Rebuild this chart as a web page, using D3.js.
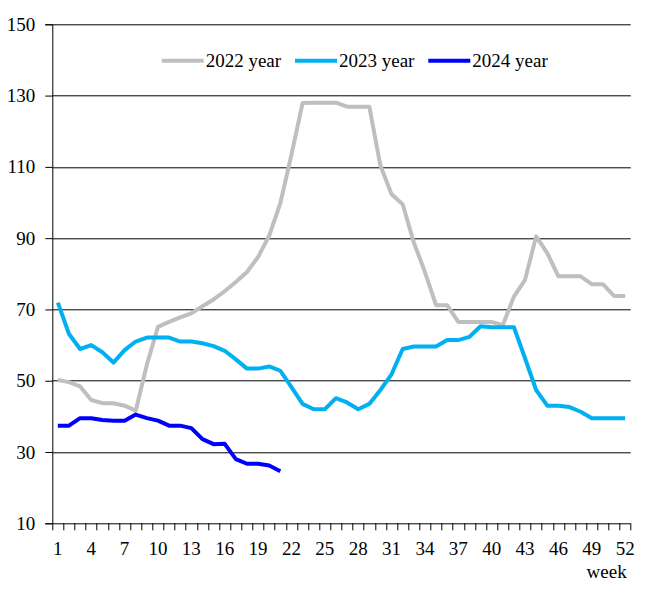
<!DOCTYPE html>
<html>
<head>
<meta charset="utf-8">
<script src="https://cdn.jsdelivr.net/npm/d3@7"></script>
<style>
  html, body { margin: 0; padding: 0; background: #fff; }
</style>
</head>
<body>
<div id="chart"></div>
<script>
const weeks = d3.range(1, 53);
const xTickWeeks = [1, 4, 7, 10, 13, 16, 19, 22, 25, 28, 31, 34, 37, 40, 43, 46, 49, 52];
const yTicks = [10, 30, 50, 70, 90, 110, 130, 150];

const y2022 = [50.2, 49.6, 48.4, 44.6, 43.7, 43.7, 43.0, 41.6, 54.5, 65.1,
    66.5, 67.8, 68.9, 70.9, 72.8, 75.1, 77.7, 80.5, 84.7, 90.7,
    99.8, 113.4, 127.9, 128.0, 128.0, 128.0, 126.9, 126.9, 126.9, 110.3,
    102.3, 99.5, 88.8, 80.5, 71.2, 71.2, 66.5, 66.5, 66.5, 66.5,
    65.6, 73.6, 78.3, 90.5, 85.8, 79.3, 79.3, 79.3, 77.1, 77.1,
    73.8, 73.8];
const y2023 = [71.9, 63.1, 58.9, 60.0, 58.0, 55.1, 58.6, 61.0, 62.1, 62.1,
    62.1, 61.0, 61.0, 60.5, 59.7, 58.4, 56.0, 53.4, 53.4, 54.0,
    52.8, 48.2, 43.5, 42.0, 42.0, 45.1, 43.9, 42.0, 43.5, 47.4,
    51.8, 58.9, 59.6, 59.6, 59.6, 61.4, 61.4, 62.3, 65.3, 65.0,
    65.0, 65.0, 56.3, 47.4, 43.0, 43.0, 42.6, 41.3, 39.5, 39.5,
    39.5, 39.5];
const y2024 = [37.4, 37.4, 39.5, 39.5, 39.0, 38.8, 38.8, 40.5, 39.5, 38.8,
    37.4, 37.4, 36.7, 33.6, 32.2, 32.3, 28.0, 26.7, 26.7, 26.2,
    24.6];

const seriesNames = ["2022 year", "2023 year", "2024 year"];
const seriesColors = ["#BFBFBF", "#00B0F0", "#0000FF"];
const seriesValues = [y2022, y2023, y2024];

const FONT = "'Liberation Serif', 'Times New Roman', Times, serif";
const FS = "19px";
const W = 647, H = 599;
const margin = { top: 24.3, right: 16.3, bottom: 75.7, left: 52.3 };
const width = W - margin.left - margin.right;
const height = H - margin.top - margin.bottom;

const svg = d3.select("#chart").append("svg")
    .attr("width", W)
    .attr("height", H);

const g = svg.append("g")
    .attr("transform", `translate(${margin.left},${margin.top})`);

const x = d3.scaleBand()
    .domain(weeks)
    .range([0, width])
    .padding(0);

const y = d3.scaleLinear()
    .domain([10, 150])
    .range([height, 0]);

// gridlines
g.selectAll("line.grid")
    .data(yTicks.filter(t => t > 10))
    .join("line")
    .attr("class", "grid")
    .attr("x1", 0)
    .attr("x2", width)
    .attr("y1", d => Math.round(y(d)) + 0.5)
    .attr("y2", d => Math.round(y(d)) + 0.5)
    .attr("stroke", "#000")
    .attr("stroke-width", 1);

// y axis
const yAxis = g.append("g")
    .call(d3.axisLeft(y).tickValues(yTicks).tickSize(7).tickPadding(10));
yAxis.select(".domain").attr("stroke", "#000");
yAxis.selectAll("text")
    .style("font-family", FONT)
    .style("font-size", FS)
    .attr("fill", "#000");

// x axis, ticks on category boundaries
const xAxisG = g.append("g")
    .attr("transform", `translate(0,${height})`);
xAxisG.append("line")
    .attr("x1", 0).attr("x2", width)
    .attr("y1", 0.5).attr("y2", 0.5)
    .attr("stroke", "#000");
xAxisG.selectAll("line.tick")
    .data(d3.range(0, 53))
    .join("line")
    .attr("class", "tick")
    .attr("x1", i => Math.round(i * x.bandwidth()) + 0.5)
    .attr("x2", i => Math.round(i * x.bandwidth()) + 0.5)
    .attr("y1", 0)
    .attr("y2", 7)
    .attr("stroke", "#000");
xAxisG.selectAll("text.lbl")
    .data(xTickWeeks)
    .join("text")
    .attr("class", "lbl")
    .attr("x", d => x(d) + x.bandwidth() / 2)
    .attr("y", 31.5)
    .attr("text-anchor", "middle")
    .style("font-family", FONT)
    .style("font-size", FS)
    .text(d => d);

xAxisG.append("text")
    .attr("x", width - 4)
    .attr("y", 54.5)
    .attr("text-anchor", "end")
    .style("font-family", FONT)
    .style("font-size", FS)
    .text("week");

// lines
const line = d3.line()
    .x((d, i) => x(weeks[i]) + x.bandwidth() / 2)
    .y(d => y(d));

seriesValues.forEach((vals, k) => {
    g.append("path")
        .datum(vals)
        .attr("fill", "none")
        .attr("stroke", seriesColors[k])
        .attr("stroke-width", 4)
        .attr("stroke-linejoin", "round")
        .attr("d", line);
});

// legend
const legendX = [161.7, 295, 428.3];
const legend = svg.append("g");
seriesNames.forEach((name, k) => {
    legend.append("line")
        .attr("x1", legendX[k]).attr("x2", legendX[k] + 42)
        .attr("y1", 60.7).attr("y2", 60.7)
        .attr("stroke", seriesColors[k])
        .attr("stroke-width", 4);
    legend.append("text")
        .attr("x", legendX[k] + 44)
        .attr("y", 66.8)
        .style("font-family", FONT)
        .style("font-size", FS)
        .text(name);
});
</script>
</body>
</html>
